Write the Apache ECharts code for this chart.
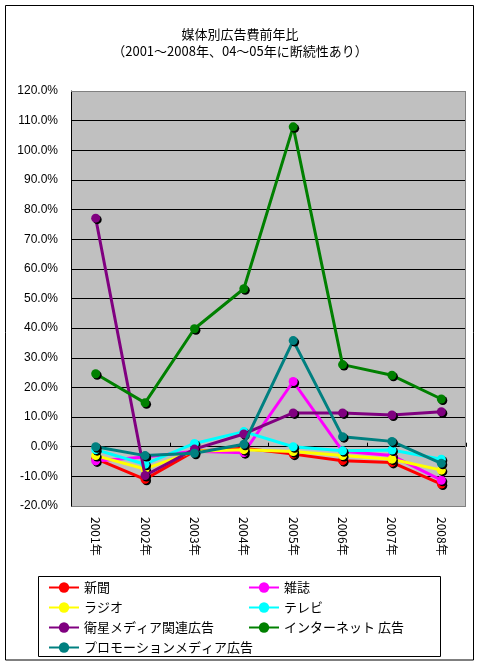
<!DOCTYPE html>
<html>
<head>
<meta charset="utf-8">
<script src="https://cdn.jsdelivr.net/npm/echarts@6/dist/echarts.min.js"></script>
<style>
html,body{margin:0;padding:0;background:#fff;}
#c{width:480px;height:665px;}
</style>
</head>
<body>
<div id="c"></div>
<script>
var categories = ['2001年','2002年','2003年','2004年','2005年','2006年','2007年','2008年'];
var seriesNames = ['新聞','雑誌','ラジオ','テレビ','衛星メディア関連広告','インターネット 広告','プロモーションメディア広告'];
var shinbun   = [-4.0, -11.0, -1.5, -0.5, -2.5, -4.7, -5.3, -12.6];
var zasshi    = [-4.8, -3.5, -1.5, -2.0, 22.0, -1.5, -3.0, -11.3];
var radio     = [-3.0, -7.5, -1.5, -1.0, -1.6, -3.0, -4.2, -7.9];
var tv        = [-1.0, -5.9, 1.1, 5.1, 0.0, -1.4, -1.1, -4.2];
var eisei     = [77.1, -9.7, -0.8, 4.3, 11.4, 11.4, 10.7, 11.8];
var internet  = [24.6, 14.8, 39.8, 53.3, 107.9, 27.7, 24.1, 16.1];
var promotion = [0.0, -3.0, -2.2, 0.8, 35.8, 3.4, 1.8, -5.6];
var yTicks = {min: -20, max: 120, interval: 10};

var allData = [shinbun, zasshi, radio, tv, eisei, internet, promotion];
var colors = ['#FF0000','#FF00FF','#FFFF00','#00FFFF','#800080','#008000','#008080'];

var font = '"Liberation Sans","Noto Sans CJK JP",sans-serif';
var jfont = '"Noto Sans CJK JP","Liberation Sans",sans-serif';

var splitColors = [];
var nLines = (yTicks.max - yTicks.min) / yTicks.interval + 1;
for (var i = 0; i < nLines; i++) {
  splitColors.push(i === 0 || i === nLines - 1 ? '#808080' : '#000000');
}

var series = allData.map(function (d, i) {
  return {
    name: seriesNames[i],
    type: 'line',
    xAxisIndex: 0,
    data: d,
    symbol: 'circle',
    symbolSize: 9,
    lineStyle: {width: 3, color: colors[i]},
    itemStyle: {color: colors[i], shadowColor: 'rgba(0,0,0,1)', shadowOffsetX: 1.5, shadowOffsetY: 1.5, shadowBlur: 0},
    emphasis: {disabled: true},
    z: 2 + i
  };
});

var chart = echarts.init(document.getElementById('c'), null, {renderer: 'canvas'});
chart.setOption({
  animation: false,
  backgroundColor: '#fff',
  title: {
    text: '媒体別広告費前年比',
    subtext: '（2001～2008年、04～05年に断続性あり）',
    left: 'center',
    top: 23,
    itemGap: 4,
    textStyle: {fontSize: 13, fontWeight: 'normal', color: '#000', fontFamily: jfont},
    subtextStyle: {fontSize: 13, color: '#000', fontFamily: jfont}
  },
  grid: {
    left: 71, right: 14, top: 91, bottom: 159,
    show: true, backgroundColor: '#C0C0C0', borderWidth: 0
  },
  xAxis: [
    {
      type: 'category',
      data: categories,
      boundaryGap: true,
      position: 'bottom',
      axisLine: {show: true, onZero: true, lineStyle: {color: '#000', width: 1}},
      axisTick: {show: true, inside: true, length: 4, lineStyle: {color: '#000'}},
      axisLabel: {show: false},
      splitLine: {show: false}
    },
    {
      type: 'category',
      data: categories,
      boundaryGap: true,
      position: 'bottom',
      axisLine: {show: false, onZero: false},
      axisTick: {show: false},
      axisLabel: {show: true, rotate: -90, margin: 11, fontSize: 12, color: '#000', fontFamily: jfont},
      splitLine: {show: false}
    }
  ],
  yAxis: {
    type: 'value',
    min: yTicks.min, max: yTicks.max, interval: yTicks.interval,
    axisLine: {show: true, lineStyle: {color: '#000', width: 1}},
    axisTick: {show: false},
    axisLabel: {
      margin: 13, fontSize: 12, color: '#000', fontFamily: font,
      formatter: function (v) { return v.toFixed(1) + '%'; }
    },
    splitLine: {show: true, lineStyle: {color: splitColors, width: 1}}
  },
  legend: [
    {
      data: [seriesNames[0], seriesNames[2], seriesNames[4], seriesNames[6]],
      orient: 'vertical',
      left: 43, top: 576,
      itemWidth: 30, itemHeight: 13, itemGap: 7,
      textStyle: {fontSize: 13, color: '#000', fontFamily: jfont},
      selectedMode: false
    },
    {
      data: [seriesNames[1], seriesNames[3], seriesNames[5]],
      orient: 'vertical',
      left: 243, top: 576,
      itemWidth: 30, itemHeight: 13, itemGap: 7,
      textStyle: {fontSize: 13, color: '#000', fontFamily: jfont},
      selectedMode: false
    }
  ],
  graphic: [
    {type: 'rect', shape: {x: 5.5, y: 5.5, width: 468, height: 654.5}, style: {fill: 'none', stroke: '#000', lineWidth: 1}, z: 100},
    {type: 'rect', shape: {x: 38.5, y: 576.5, width: 402, height: 80}, style: {fill: 'none', stroke: '#000', lineWidth: 1}, z: 100},
    {type: 'line', shape: {x1: 71, y1: 91.5, x2: 466, y2: 91.5}, style: {stroke: '#808080', lineWidth: 1}, z: 50},
    {type: 'line', shape: {x1: 465.5, y1: 91, x2: 465.5, y2: 506}, style: {stroke: '#808080', lineWidth: 1}, z: 50}
  ],
  series: series
});
</script>
</body>
</html>
